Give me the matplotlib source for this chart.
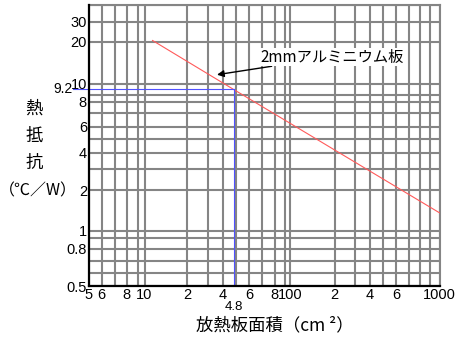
import numpy as np
import matplotlib
matplotlib.use("Agg")
import matplotlib.pyplot as plt

# データ
area = [11.4, 48, 1000]          # 放熱板面積 (cm2)
resistance = [20.5, 9.2, 1.36]   # 熱抵抗 (℃/W)
point_area = 48
point_res = 9.2

x_grid = [5, 6, 7, 8, 9, 10, 20, 30, 40, 50, 60, 70, 80, 90,
          100, 200, 300, 400, 500, 600, 700, 800, 900, 1000]
x_labels = {5: "5", 6: "6", 8: "8", 10: "10", 20: "2", 40: "4", 60: "6",
            80: "8", 100: "100", 200: "2", 400: "4", 600: "6", 1000: "1000"}
y_grid = [0.5, 0.6, 0.7, 0.8, 0.9, 1, 2, 3, 4, 5, 6, 7, 8, 9, 10, 20, 30, 40]
y_labels = {0.5: "0.5", 0.8: "0.8", 1: "1", 2: "2", 4: "4", 6: "6",
            8: "8", 10: "10", 20: "20", 30: "30"}

# 手書き風の対数目盛 (元図の目盛間隔に合わせる, 9.2 の目盛を含む)
x_scale_vals = x_grid
x_scale_pos = [0, 12.7, 26, 37.7, 49.3, 55.5, 98, 118.5, 133.5, 147, 160, 173,
               185.5, 195.5, 201, 245.5, 265.5, 281, 294, 307, 320, 331, 341, 350.5]
y_scale_vals = [0.5, 0.6, 0.7, 0.8, 0.9, 1, 2, 3, 4, 5, 6, 7, 8, 9, 9.2, 10, 20, 30, 40]
y_scale_pos = [0, 13, 25, 37, 48, 55, 96, 116.7, 133, 147.3, 159, 172.7,
               184.3, 191, 196.6, 202.3, 244.3, 264.3, 281]


def make_scale(vals, pos):
    lv = np.log10(vals)
    pos = np.asarray(pos, float)

    def fwd(v):
        v = np.asarray(v, float)
        with np.errstate(divide="ignore", invalid="ignore"):
            lg = np.log10(np.where(v > 0, v, vals[0]))
        return np.interp(lg, lv, pos)

    def inv(p):
        return 10 ** np.interp(p, pos, lv)
    return fwd, inv


plt.rcParams["font.family"] = ["Liberation Sans", "DejaVu Sans"]
jp = ["Noto Sans CJK JP", "DejaVu Sans"]

W, H = 458, 340
fig = plt.figure(figsize=(W / 100, H / 100), dpi=100)
ax = fig.add_axes([89 / W, 1 - 286 / H, 350.5 / W, 281 / H])

ax.set_xscale("function", functions=make_scale(x_scale_vals, x_scale_pos))
ax.set_yscale("function", functions=make_scale(y_scale_vals, y_scale_pos))
ax.set_xlim(5, 1000)
ax.set_ylim(0.5, 40)

ax.set_xticks(x_grid)
ax.set_xticklabels([x_labels.get(v, "") for v in x_grid])
ax.set_yticks(y_grid)
ax.set_yticklabels([y_labels.get(v, "") for v in y_grid])
ax.minorticks_off()
ax.tick_params(length=0, labelsize=10.5, pad=1.5)
ax.grid(True, color="#858585", linewidth=1.5)

for side in ["top", "right"]:
    ax.spines[side].set_color("#858585")
    ax.spines[side].set_linewidth(1.5)
for side in ["left", "bottom"]:
    ax.spines[side].set_color("black")
    ax.spines[side].set_linewidth(1.6)
    ax.spines[side].set_zorder(5)

# 赤線
ax.plot(area, resistance, color="#ff5a5a", linewidth=0.8, zorder=4)

# 青線 (読み取り)
ax.plot([5, point_area], [point_res, point_res], color="#5050ff", linewidth=0.8, zorder=4)
ax.plot([point_area, point_area], [0.5, point_res], color="#5050ff", linewidth=0.8, zorder=4)
ax.plot([-0.046, 0], [point_res, point_res], color="#5050ff", linewidth=0.8,
        transform=ax.get_yaxis_transform(), clip_on=False)
ax.text(-0.048, point_res, "9.2", transform=ax.get_yaxis_transform(),
        ha="right", va="center", fontsize=10)
ax.text(point_area, -0.075, "4.8", transform=ax.get_xaxis_transform(),
        ha="center", va="center", fontsize=9.5)

# 注記
ax.annotate("2mmアルミニウム板", xy=(36, 11.6), xytext=(260 / W, 1 - 57 / H),
            textcoords="figure fraction", family=jp, fontsize=11,
            ha="left", va="center",
            bbox=dict(boxstyle="square,pad=0.05", fc="white", ec="none"),
            arrowprops=dict(arrowstyle="-|>", color="black", lw=1,
                            mutation_scale=10, shrinkA=0, shrinkB=0))

# 軸ラベル
for ch, yy in zip(["熱", "抵", "抗"], [109, 136, 163]):
    fig.text(34 / W, 1 - yy / H, ch, family=jp, fontsize=12.5, ha="center", va="center")
fig.text(38 / W, 1 - 191 / H, "（℃／W）", family=jp, fontsize=11.5, ha="center", va="center")
fig.text(275 / W, 1 - 325 / H, "放熱板面積（cm ²）", family=jp, fontsize=12.5,
         ha="center", va="center")

fig.savefig("out.png", dpi=100)
